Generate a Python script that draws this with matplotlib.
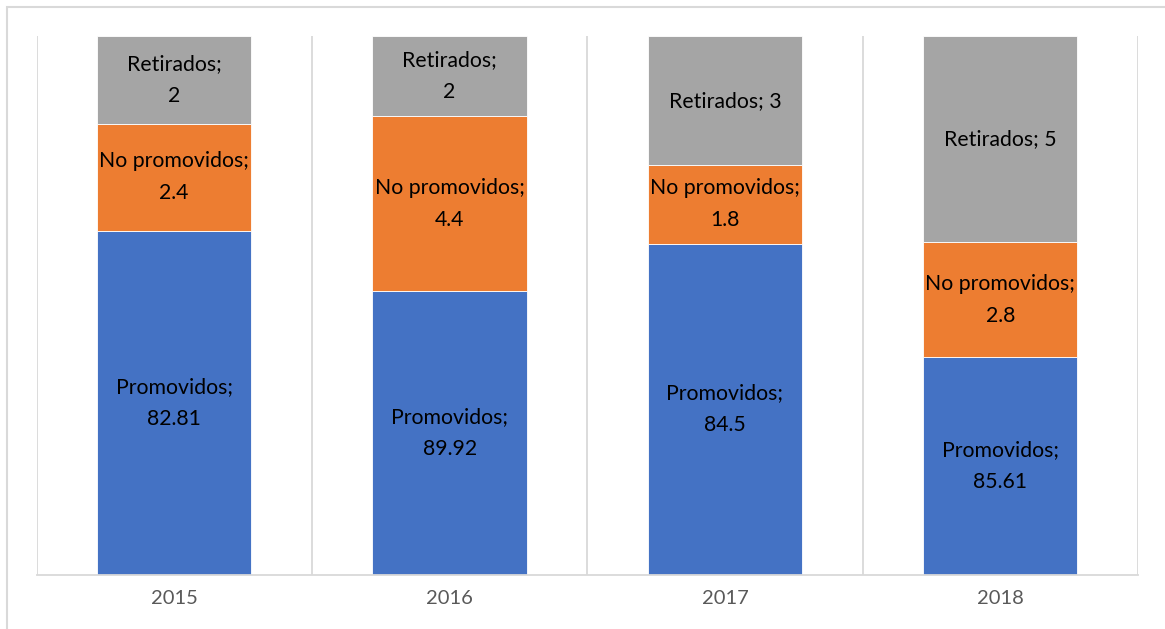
from matplotlib import pyplot as plt
from matplotlib.patches import Rectangle
import numpy as np

# categories and series
years = ['2015', '2016', '2017', '2018']
series = ['Promovidos', 'No promovidos', 'Retirados']
# bar heights as drawn (share of the 100% bar)
promovidos_h = [63.9, 52.6, 61.5, 40.4]
no_promovidos_h = [19.7, 32.6, 14.5, 21.4]
retirados_h = [16.4, 14.8, 24.0, 38.2]
# values shown in the data labels
promovidos_lbl = ['82.81', '89.92', '84.5', '85.61']
no_promovidos_lbl = ['2.4', '4.4', '1.8', '2.8']
retirados_lbl = ['2', '2', '3', '5']
# label wraps onto two lines?
retirados_wrap = [True, True, False, False]

colors = ['#4472C4', '#ED7D31', '#A5A5A5']
grid_c = '#D9D9D9'

plt.rcParams['font.family'] = ['Lato', 'DejaVu Sans']

W, H = 1165, 629
fig = plt.figure(figsize=(W / 100, H / 100), dpi=100)
# chart border (only top and left edges are visible)
fig.patches.append(Rectangle((7 / W, -0.1), 1.2, (H - 7) / H + 0.1,
                             transform=fig.transFigure, fill=False,
                             edgecolor=grid_c, linewidth=1.5))
ax = fig.add_axes([36.5 / W, (H - 575) / H, (1138 - 36.5) / W, (575 - 36) / H])

x = np.arange(len(years))
width = 0.56
heights = [promovidos_h, no_promovidos_h, retirados_h]
labels = [promovidos_lbl, no_promovidos_lbl, retirados_lbl]
bottom = np.zeros(len(years))
for k in range(3):
    h = np.array(heights[k])
    ax.bar(x, h, width, bottom=bottom, color=colors[k], edgecolor='white',
           linewidth=0.6, zorder=2)
    for i in range(len(years)):
        if k == 2 and not retirados_wrap[i]:
            txt = series[k] + '; ' + labels[k][i]
        else:
            txt = series[k] + ';\n' + labels[k][i]
        ax.text(x[i], bottom[i] + h[i] / 2, txt, ha='center', va='center',
                fontsize=15.3, color='black', linespacing=1.75, zorder=3)
    bottom = bottom + h

ax.set_xlim(-0.5, len(years) - 0.5)
ax.set_ylim(0, 100)
for g in np.arange(-0.5, len(years), 1.0):
    ax.axvline(g, color=grid_c, linewidth=1.3, zorder=1)
for s in ['top', 'left', 'right']:
    ax.spines[s].set_visible(False)
ax.spines['bottom'].set_color(grid_c)
ax.spines['bottom'].set_linewidth(1.3)
ax.set_yticks([])
ax.set_xticks(x)
ax.set_xticklabels(years, fontsize=14.5, color='#595959')
ax.tick_params(axis='x', length=0, pad=11)

fig.savefig('out.png', dpi=100)
